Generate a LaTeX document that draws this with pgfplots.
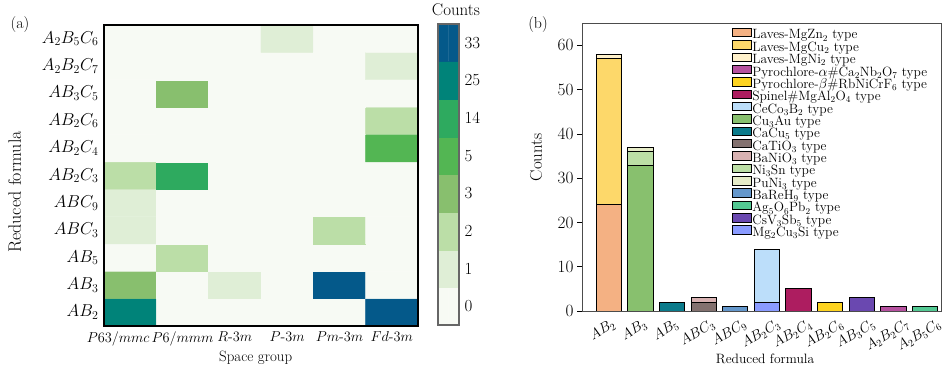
\documentclass[border=0pt]{standalone}
\usepackage{pgfplots}
\pgfplotsset{compat=1.18}
\usepackage{pgfplotstable}
\usepackage{graphicx}

\definecolor{h0}{HTML}{F7FAF4}
\definecolor{h1}{HTML}{DFEED6}
\definecolor{h2}{HTML}{BBDEA7}
\definecolor{h3}{HTML}{88BF6E}
\definecolor{h4}{HTML}{53B653}
\definecolor{h5}{HTML}{2EAA5F}
\definecolor{h6}{HTML}{008379}
\definecolor{h7}{HTML}{04598A}

\definecolor{cMgZn}{HTML}{F4B183}
\definecolor{cMgCu}{HTML}{FDD86A}
\definecolor{cMgNi}{HTML}{FFF1CB}
\definecolor{cPyA}{HTML}{B6519F}
\definecolor{cPyB}{HTML}{FDD320}
\definecolor{cSpinel}{HTML}{AD1D60}
\definecolor{cCeCo}{HTML}{BCDEFA}
\definecolor{cCuAu}{HTML}{88C06E}
\definecolor{cCaCu}{HTML}{0B7B8B}
\definecolor{cCaTi}{HTML}{83716F}
\definecolor{cBaNi}{HTML}{D8B2B2}
\definecolor{cNiSn}{HTML}{BCDFA6}
\definecolor{cPuNi}{HTML}{E6ECC8}
\definecolor{cBaRe}{HTML}{6497CB}
\definecolor{cAg}{HTML}{53C993}
\definecolor{cCsV}{HTML}{6A48B0}
\definecolor{cMgCuSi}{HTML}{8A9BFF}

\pgfplotsset{colormap={bins}{color=(h0) color=(h1) color=(h2) color=(h3) color=(h4) color=(h5) color=(h6) color=(h7)}}
\pgfplotsset{myleg/.style={legend image code/.code={\draw[##1,line width=0.8bp] (0bp,-0.5bp) rectangle (19bp,8bp);}}}

% heatmap: counts per reduced formula (y) and space group (x)
\pgfplotstableread{
x y n
0 0 25
1 0 0
2 0 0
3 0 0
4 0 0
5 0 33
0 1 3
1 1 0
2 1 1
3 1 0
4 1 33
5 1 0
0 2 0
1 2 2
2 2 0
3 2 0
4 2 0
5 2 0
0 3 1
1 3 0
2 3 0
3 3 0
4 3 2
5 3 0
0 4 1
1 4 0
2 4 0
3 4 0
4 4 0
5 4 0
0 5 2
1 5 12
2 5 0
3 5 0
4 5 0
5 5 0
0 6 0
1 6 0
2 6 0
3 6 0
4 6 0
5 6 5
0 7 0
1 7 0
2 7 0
3 7 0
4 7 0
5 7 2
0 8 0
1 8 3
2 8 0
3 8 0
4 8 0
5 8 0
0 9 0
1 9 0
2 9 0
3 9 0
4 9 0
5 9 1
0 10 0
1 10 0
2 10 0
3 10 1
4 10 0
5 10 0
}\heat

% colorbar levels
\pgfplotstableread{
x y c
0 0 0
1 0 0
0 1 1
1 1 1
0 2 2
1 2 2
0 3 3
1 3 3
0 4 4
1 4 4
0 5 5
1 5 5
0 6 6
1 6 6
0 7 7
1 7 7
}\cbar

% stacked bars: counts per structure type and reduced formula
\pgfplotstableread{
x MgZn MgCu MgNi PyA PyB Spinel CeCo CuAu CaCu CaTi BaNi NiSn PuNi BaRe Ag CsV MgCuSi
0 24 33 1 0 0 0 0 0 0 0 0 0 0 0 0 0 0
1 0 0 0 0 0 0 0 33 0 0 0 3 1 0 0 0 0
2 0 0 0 0 0 0 0 0 2 0 0 0 0 0 0 0 0
3 0 0 0 0 0 0 0 0 0 2 1 0 0 0 0 0 0
4 0 0 0 0 0 0 0 0 0 0 0 0 0 1 0 0 0
5 0 0 0 0 0 0 12 0 0 0 0 0 0 0 0 0 2
6 0 0 0 0 0 5 0 0 0 0 0 0 0 0 0 0 0
7 0 0 0 0 2 0 0 0 0 0 0 0 0 0 0 0 0
8 0 0 0 0 0 0 0 0 0 0 0 0 0 0 0 3 0
9 0 0 0 1 0 0 0 0 0 0 0 0 0 0 0 0 0
10 0 0 0 0 0 0 0 0 0 0 0 0 0 0 1 0 0
}\bars

\begin{document}
\begin{tikzpicture}
\useasboundingbox (0bp,0bp) rectangle (951bp,368bp);

% ---------- (a) heatmap ----------
\begin{axis}[
  at={(104bp,42bp)}, anchor=south west, scale only axis,
  width=314bp, height=301bp,
  xmin=-0.5, xmax=5.5, ymin=-0.5, ymax=10.5, enlargelimits=false,
  clip=false, axis line style={draw=none},
  xtick={0,...,5},
  xticklabels={$P63/mmc$\hspace*{24bp},$P6/mmm$,$R$-$3m$,$P$-$3m$,$Pm$-$3m$,$Fd$-$3m$},
  ytick={0,...,10},
  yticklabels={$AB_2$,$AB_3$,$AB_5$,$ABC_3$,$ABC_9$,$AB_2C_3$,$AB_2C_4$,$AB_2C_6$,$AB_3C_5$,$A_2B_2C_7$,$A_2B_5C_6$},
  major tick length=0pt,
  xticklabel style={font=\fontsize{14.5}{15}\selectfont, yshift=-2bp},
  yticklabel style={font=\fontsize{17.5}{18}\selectfont, xshift=-2bp},
  xlabel={Space group}, ylabel={Reduced formula},
  xlabel style={font=\fontsize{15}{15}\selectfont, at={(axis description cs:0.483,-0.106)}, anchor=center},
  ylabel style={font=\fontsize{18}{18}\selectfont, at={(axis description cs:-0.284,0.445)}, anchor=center},
  colormap name=bins, point meta min=0, point meta max=7,
]
\addplot[matrix plot*, mesh/cols=6,
  point meta={(\thisrow{n}>0.5)+(\thisrow{n}>1.5)+(\thisrow{n}>2.5)+(\thisrow{n}>3.5)+(\thisrow{n}>5.5)+(\thisrow{n}>14.5)+(\thisrow{n}>25.5)}]
  table[x=x, y=y] {\heat};
\end{axis}
\fill[black] (103bp,41bp) rectangle (105bp,344bp);
\fill[black] (417bp,41bp) rectangle (419bp,344bp);
\fill[black] (103bp,41bp) rectangle (419bp,43bp);
\fill[black] (103bp,342bp) rectangle (419bp,344bp);

% ---------- colorbar ----------
\begin{axis}[
  at={(438bp,43bp)}, anchor=south west, scale only axis,
  width=21bp, height=301bp,
  xmin=-0.5, xmax=1.5, ymin=-0.5, ymax=7.5, enlargelimits=false,
  clip=false, axis line style={draw=none},
  xtick=\empty, ytick={0,...,7}, yticklabels={0,1,2,3,5,14,25,33},
  yticklabel pos=right, major tick length=0pt,
  yticklabel style={font=\fontsize{17}{17}\selectfont, anchor=west, xshift=2bp},
  colormap name=bins, point meta min=0, point meta max=7,
]
\addplot[matrix plot*, mesh/cols=2, point meta=\thisrow{c}] table[x=x, y=y] {\cbar};
\end{axis}
\fill[black!60] (437bp,42bp) rectangle (439bp,345bp);
\fill[black!60] (458bp,42bp) rectangle (460bp,345bp);
\fill[black!60] (437bp,42bp) rectangle (460bp,44bp);
\fill[black!60] (437bp,343bp) rectangle (460bp,345bp);

% ---------- (b) stacked bars ----------
\begin{axis}[
  at={(582bp,57bp)}, anchor=south west, scale only axis,
  width=359bp, height=287.7bp,
  xmin=-0.84, xmax=10.5, ymin=0, ymax=65,
  ybar stacked, bar width=0.8,
  axis line style={black!70, line width=0.9bp},
  xtick={0,...,10},
  xticklabels={\rotatebox{30}{$AB_2$},\rotatebox{30}{$AB_3$},\rotatebox{30}{$AB_5$},\rotatebox{30}{$ABC_3$},\rotatebox{30}{$ABC_9$},\rotatebox{30}{$AB_2C_3$},\rotatebox{30}{$AB_2C_4$},\rotatebox{30}{$AB_2C_6$},\rotatebox{30}{$AB_3C_5$},\rotatebox{30}{$A_2B_2C_7$},\rotatebox{30}{$A_2B_5C_6$}},
  xticklabel style={font=\fontsize{14}{14}\selectfont, anchor=north, xshift=-6bp, inner sep=2bp},
  xtick style={draw=none},
  ytick={0,10,...,60}, ytick pos=left, tick align=outside,
  ytick style={black, line width=0.8bp}, major tick length=5bp,
  yticklabel style={font=\fontsize{17.5}{18}\selectfont},
  xlabel={Reduced formula}, ylabel={Counts},
  xlabel style={font=\fontsize{13.6}{14}\selectfont, at={(axis description cs:0.51,-0.167)}, anchor=center},
  ylabel style={font=\fontsize{17}{17}\selectfont, at={(axis description cs:-0.128,0.535)}, anchor=center},
  legend style={at={(0.418,0.985)}, anchor=north west, draw=none, fill=none,
    font=\fontsize{13.5}{13.5}\selectfont, inner sep=0pt, row sep=-2.3bp,
    nodes={inner sep=0.25bp, text height=8.75bp, text depth=3.25bp}},
  legend cell align=left,
]
\addlegendimage{myleg, fill=cMgZn, draw=black}\addlegendentry{Laves-MgZn$_2$ type}
\addlegendimage{myleg, fill=cMgCu, draw=black}\addlegendentry{Laves-MgCu$_2$ type}
\addlegendimage{myleg, fill=cMgNi, draw=black}\addlegendentry{Laves-MgNi$_2$ type}
\addlegendimage{myleg, fill=cPyA, draw=black}\addlegendentry{Pyrochlore-$\alpha$\#Ca$_2$Nb$_2$O$_7$ type}
\addlegendimage{myleg, fill=cPyB, draw=black}\addlegendentry{Pyrochlore-$\beta$\#RbNiCrF$_6$ type}
\addlegendimage{myleg, fill=cSpinel, draw=black}\addlegendentry{Spinel\#MgAl$_2$O$_4$ type}
\addlegendimage{myleg, fill=cCeCo, draw=black}\addlegendentry{CeCo$_3$B$_2$ type}
\addlegendimage{myleg, fill=cCuAu, draw=black}\addlegendentry{Cu$_3$Au type}
\addlegendimage{myleg, fill=cCaCu, draw=black}\addlegendentry{CaCu$_5$ type}
\addlegendimage{myleg, fill=cCaTi, draw=black}\addlegendentry{CaTiO$_3$ type}
\addlegendimage{myleg, fill=cBaNi, draw=black}\addlegendentry{BaNiO$_3$ type}
\addlegendimage{myleg, fill=cNiSn, draw=black}\addlegendentry{Ni$_3$Sn type}
\addlegendimage{myleg, fill=cPuNi, draw=black}\addlegendentry{PuNi$_3$ type}
\addlegendimage{myleg, fill=cBaRe, draw=black}\addlegendentry{BaReH$_9$ type}
\addlegendimage{myleg, fill=cAg, draw=black}\addlegendentry{Ag$_5$O$_6$Pb$_2$ type}
\addlegendimage{myleg, fill=cCsV, draw=black}\addlegendentry{CsV$_3$Sb$_5$ type}
\addlegendimage{myleg, fill=cMgCuSi, draw=black}\addlegendentry{Mg$_2$Cu$_3$Si type}

\addplot[forget plot, fill=cMgZn, draw=black, line width=0.8bp] table[x=x, y=MgZn] {\bars};
\addplot[forget plot, fill=cMgCu, draw=black, line width=0.8bp] table[x=x, y=MgCu] {\bars};
\addplot[forget plot, fill=cMgNi, draw=black, line width=0.8bp] table[x=x, y=MgNi] {\bars};
\addplot[forget plot, fill=cPyA, draw=black, line width=0.8bp] table[x=x, y=PyA] {\bars};
\addplot[forget plot, fill=cPyB, draw=black, line width=0.8bp] table[x=x, y=PyB] {\bars};
\addplot[forget plot, fill=cSpinel, draw=black, line width=0.8bp] table[x=x, y=Spinel] {\bars};
\addplot[forget plot, fill=cMgCuSi, draw=black, line width=0.8bp] table[x=x, y=MgCuSi] {\bars};
\addplot[forget plot, fill=cCeCo, draw=black, line width=0.8bp] table[x=x, y=CeCo] {\bars};
\addplot[forget plot, fill=cCuAu, draw=black, line width=0.8bp] table[x=x, y=CuAu] {\bars};
\addplot[forget plot, fill=cCaCu, draw=black, line width=0.8bp] table[x=x, y=CaCu] {\bars};
\addplot[forget plot, fill=cCaTi, draw=black, line width=0.8bp] table[x=x, y=CaTi] {\bars};
\addplot[forget plot, fill=cBaNi, draw=black, line width=0.8bp] table[x=x, y=BaNi] {\bars};
\addplot[forget plot, fill=cNiSn, draw=black, line width=0.8bp] table[x=x, y=NiSn] {\bars};
\addplot[forget plot, fill=cPuNi, draw=black, line width=0.8bp] table[x=x, y=PuNi] {\bars};
\addplot[forget plot, fill=cBaRe, draw=black, line width=0.8bp] table[x=x, y=BaRe] {\bars};
\addplot[forget plot, fill=cAg, draw=black, line width=0.8bp] table[x=x, y=Ag] {\bars};
\addplot[forget plot, fill=cCsV, draw=black, line width=0.8bp] table[x=x, y=CsV] {\bars};
\end{axis}

% panel tags and colorbar title
\node[font=\fontsize{16}{16}\selectfont] at (20bp,343bp) {(a)};
\node[font=\fontsize{16}{16}\selectfont] at (538bp,343bp) {(b)};
\node[font=\fontsize{17}{17}\selectfont] at (456bp,358bp) {Counts};
\end{tikzpicture}
\end{document}
